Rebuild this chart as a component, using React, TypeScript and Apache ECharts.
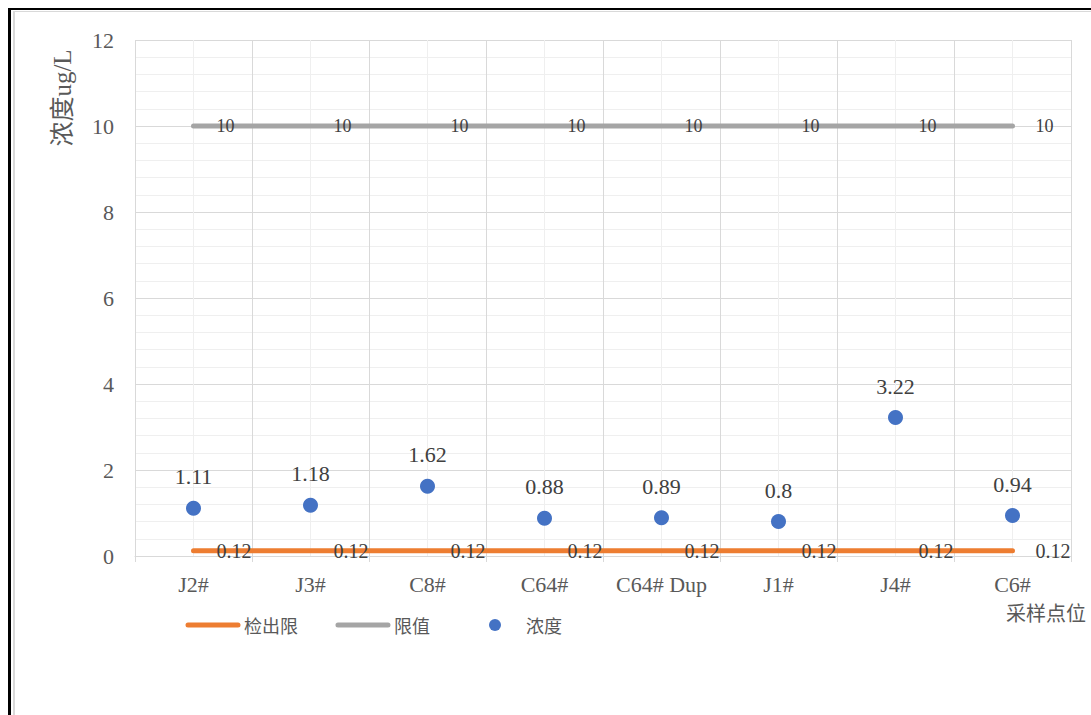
import React, { useEffect, useRef } from "react";
import * as echarts from "echarts";

// Sampling sites
const sites = ["J2#", "J3#", "C8#", "C64#", "C64# Dup", "J1#", "J4#", "C6#"];
// Detection limit (检出限)
const detectionLimit = [0.12, 0.12, 0.12, 0.12, 0.12, 0.12, 0.12, 0.12];
// Standard limit (限值)
const limitValue = [10, 10, 10, 10, 10, 10, 10, 10];
// Measured concentration (浓度)
const concentration = [1.11, 1.18, 1.62, 0.88, 0.89, 0.8, 3.22, 0.94];

const SERIF = "'Liberation Serif', 'Times New Roman', 'Noto Sans CJK SC', serif";
const CJK = "'Noto Sans CJK SC', sans-serif";

// Legend icons in a 56x12 box: a rounded bar, and a dot centred in the box
const BAR_ICON = "path://M0,0 M56,12 M3,3.5 L53,3.5 A2.5,2.5 0 0 1 53,8.5 L3,8.5 A2.5,2.5 0 0 1 3,3.5 Z";
const DOT_ICON = "path://M0,0 M56,12 M28,0 A6,6 0 1 1 28,12 A6,6 0 1 1 28,0 Z";

export default function App() {
  const ref = useRef<HTMLDivElement>(null);

  useEffect(() => {
    if (!ref.current) return;
    const chart = echarts.init(ref.current, undefined, { renderer: "svg" });
    chart.setOption({
      animation: false,
      backgroundColor: "#ffffff",
      grid: { left: 135, top: 40, right: 20, bottom: 159, containLabel: false },
      legend: {
        left: 185,
        top: 616,
        padding: 0,
        itemWidth: 56,
        itemHeight: 12,
        itemGap: 37,
        textStyle: { fontFamily: CJK, fontSize: 18, color: "#595959", padding: [0, 0, 0, -2] },
        data: [
          { name: "检出限", icon: BAR_ICON, itemStyle: { color: "#ED7D31", opacity: 1 } },
          { name: "限值", icon: BAR_ICON, itemStyle: { color: "#A5A5A5", opacity: 1 } },
          { name: "浓度", icon: DOT_ICON, itemStyle: { color: "#4472C4", opacity: 1 } },
        ],
      },
      xAxis: [
        {
          type: "category",
          data: sites,
          boundaryGap: true,
          z: 2,
          axisLine: { show: true, lineStyle: { color: "#D9D9D9", width: 1 } },
          axisTick: { show: true, interval: 0, length: 6, alignWithLabel: false, lineStyle: { color: "#D9D9D9" } },
          axisLabel: { interval: 0, fontFamily: SERIF, fontSize: 22, color: "#595959", margin: 17 },
          splitLine: { show: true, interval: 0, lineStyle: { color: "#D9D9D9", width: 1 } },
        },
        {
          type: "value",
          position: "top",
          min: 0,
          max: 8,
          interval: 1,
          z: 1,
          axisLine: { show: false },
          axisTick: { show: false },
          axisLabel: { show: false },
          splitLine: { show: false },
          minorTick: { show: false, splitNumber: 2 },
          minorSplitLine: { show: true, lineStyle: { color: "#EFEFEF", width: 1 } },
        },
      ],
      yAxis: {
        type: "value",
        min: 0,
        max: 12,
        interval: 2,
        z: 0,
        axisLine: { show: false },
        axisTick: { show: false },
        axisLabel: { fontFamily: SERIF, fontSize: 22, color: "#595959", margin: 21 },
        splitLine: { show: true, lineStyle: { color: "#D9D9D9", width: 1 } },
        minorTick: { show: false, splitNumber: 5 },
        minorSplitLine: { show: true, lineStyle: { color: "#EFEFEF", width: 1 } },
      },
      graphic: [
        {
          type: "text",
          x: 62,
          y: 98,
          rotation: Math.PI / 2,
          style: {
            text: "浓度ug/L",
            fontFamily: SERIF,
            fontSize: 25,
            fill: "#595959",
            align: "center",
            verticalAlign: "middle",
          },
        },
        {
          type: "text",
          x: 1086,
          y: 612,
          style: {
            text: "采样点位",
            fontFamily: CJK,
            fontSize: 20,
            fill: "#595959",
            align: "right",
            verticalAlign: "middle",
          },
        },
      ],
      series: [
        {
          name: "检出限",
          type: "line",
          data: detectionLimit,
          symbol: "circle",
          symbolSize: 2,
          itemStyle: { color: "#ED7D31" },
          lineStyle: { color: "#ED7D31", width: 5, cap: "round" },
          label: {
            show: true,
            position: "right",
            distance: 22,
            fontFamily: SERIF,
            fontSize: 20,
            color: "#404040",
          },
          z: 2,
        },
        {
          name: "限值",
          type: "line",
          data: limitValue,
          symbol: "circle",
          symbolSize: 2,
          itemStyle: { color: "#A5A5A5" },
          lineStyle: { color: "#A5A5A5", width: 5, cap: "round" },
          label: {
            show: true,
            position: "right",
            distance: 22,
            fontFamily: SERIF,
            fontSize: 18,
            color: "#404040",
          },
          z: 2,
        },
        {
          name: "浓度",
          type: "scatter",
          data: concentration,
          symbol: "circle",
          symbolSize: 15,
          itemStyle: { color: "#4472C4", opacity: 1 },
          label: {
            show: true,
            position: "top",
            distance: 13,
            fontFamily: SERIF,
            fontSize: 22,
            color: "#404040",
          },
          z: 3,
        },
      ],
    });
    return () => chart.dispose();
  }, []);

  return (
    <>
      <div
        ref={ref}
        style={{ position: "fixed", left: 0, top: 0, width: 1091, height: 715, background: "#fff" }}
      />
      <div
        style={{
          position: "fixed",
          left: 8,
          top: 8,
          width: 1083,
          height: 707,
          boxSizing: "border-box",
          borderLeft: "3px solid #000",
          borderTop: "2px solid #000",
          pointerEvents: "none",
        }}
      />
      <div
        style={{
          position: "fixed",
          left: 13,
          top: 11,
          width: 1078,
          height: 704,
          boxSizing: "border-box",
          borderLeft: "2px solid #D9D9D9",
          borderTop: "1px solid #D9D9D9",
          pointerEvents: "none",
        }}
      />
    </>
  );
}
